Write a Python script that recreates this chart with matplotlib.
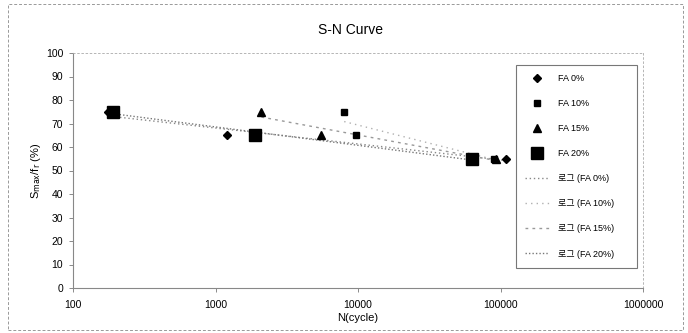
import numpy as np
import matplotlib
matplotlib.use("Agg")
import matplotlib.pyplot as plt
from matplotlib.patches import Rectangle
from matplotlib.ticker import FixedLocator, NullLocator

plt.rcParams['font.family'] = ['Liberation Sans', 'Noto Sans CJK KR', 'DejaVu Sans']

# ---- data ----
series_names = ["FA 0%", "FA 10%", "FA 15%", "FA 20%"]
trend_names = ["로그 (FA 0%)", "로그 (FA 10%)", "로그 (FA 15%)", "로그 (FA 20%)"]
fa0_n = [175, 1200, 110000]
fa0_s = [75, 65, 55]
fa10_n = [8000, 9700, 90000]
fa10_s = [75, 65, 55]
fa15_n = [2100, 5500, 93000]
fa15_s = [75, 65, 55]
fa20_n = [190, 1900, 63000]
fa20_s = [75, 65, 55]
xticks = [100, 1000, 10000, 100000, 1000000]
xtick_labels = ["100", "1000", "10000", "100000", "1000000"]
yticks = [0, 10, 20, 30, 40, 50, 60, 70, 80, 90, 100]

fig = plt.figure(figsize=(6.88, 3.33), dpi=100)
ax = fig.add_axes([73/688, 1-288/333, 570/688, 235/333])

markers = ['D', 's', '^', 's']
msizes = [4, 5, 5.5, 8.5]
tstyles = [(0, (1, 2)), (0, (1, 3)), (0, (2, 3)), (0, (1, 1.5))]
tcolors = ['#888888', '#b0b0b0', '#999999', '#777777']
data = [(fa0_n, fa0_s), (fa10_n, fa10_s), (fa15_n, fa15_s), (fa20_n, fa20_s)]

handles_pts = []
handles_tr = []
for i, (n, s) in enumerate(data):
    n = np.asarray(n, float)
    s = np.asarray(s, float)
    # logarithmic trendline (least squares on ln N), drawn over data range
    a, b = np.polyfit(np.log(n), s, 1)
    xs = np.geomspace(n.min(), n.max(), 50)
    h2, = ax.plot(xs, a*np.log(xs)+b, linestyle=tstyles[i], color=tcolors[i],
                  lw=1.0, label=trend_names[i], zorder=2)
    handles_tr.append(h2)
for i, (n, s) in enumerate(data):
    h, = ax.plot(n, s, linestyle='none', marker=markers[i], ms=msizes[i],
                 color='black', label=series_names[i], zorder=3)
    handles_pts.append(h)

ax.set_xscale('log')
ax.set_xlim(100, 1000000)
ax.set_ylim(0, 100)
ax.xaxis.set_major_locator(FixedLocator(xticks))
ax.set_xticklabels(xtick_labels)
ax.xaxis.set_minor_locator(NullLocator())
ax.set_yticks(yticks)
ax.tick_params(axis='both', labelsize=7.5, length=3, width=0.6, color='#777777', pad=4)
ax.tick_params(axis='x', pad=6)

for side in ['left', 'bottom']:
    ax.spines[side].set_color('#888888')
    ax.spines[side].set_linewidth(0.8)
for side in ['top', 'right']:
    ax.spines[side].set_color('#aaaaaa')
    ax.spines[side].set_linewidth(0.6)
    ax.spines[side].set_linestyle((0, (2, 3)))

ax.set_xlabel("N(cycle)", fontsize=8, labelpad=2)
ax.set_ylabel(r"S$_{\mathrm{max}}$/f$_{\mathrm{r}}$ (%)", fontsize=8, labelpad=2)

fig.text(350/688, 1-30/333, "S-N Curve", ha='center', va='center', fontsize=10)

leg = ax.legend(handles=handles_pts+handles_tr, loc='upper left',
                bbox_to_anchor=((516-73)/570, (288-65)/235, (637-516)/570, 0.0),
                mode='expand', fontsize=6.5, frameon=True, fancybox=False,
                edgecolor='#555555', labelspacing=1.78, handlelength=2.6,
                handletextpad=1.0, borderpad=1.0, borderaxespad=0)
leg.get_frame().set_linewidth(0.8)

# chart-area border
fig.patches.append(Rectangle((8/688, 3/333), 675/688, 326/333, transform=fig.transFigure,
                             fill=False, edgecolor='#999999', lw=0.7, linestyle=(0, (3, 2))))

fig.savefig("out.png", dpi=100)
